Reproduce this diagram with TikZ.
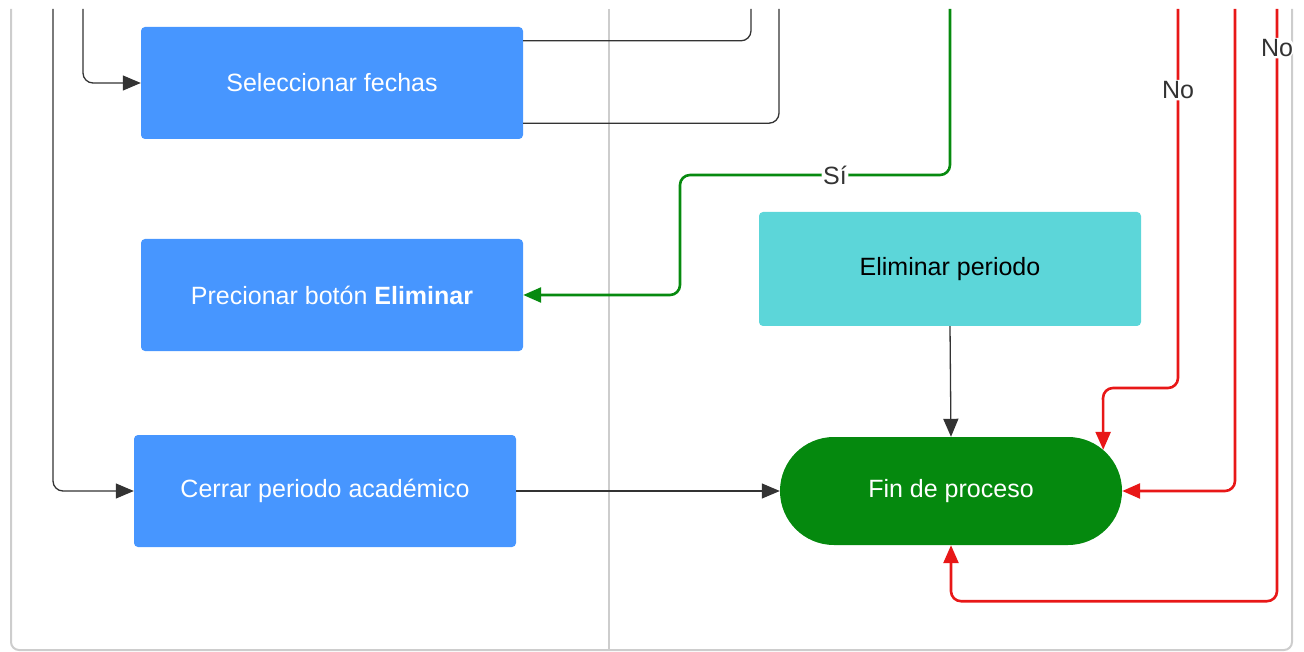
\documentclass[tikz,border=0pt]{standalone}
\usepackage{fontspec}
\setmainfont{Liberation Sans}
\usepackage{xcolor}
\usepackage{tikz}
\usetikzlibrary{positioning, arrows.meta, shapes.geometric, fit, calc}

\definecolor{taskblue}{HTML}{4796FF}
\definecolor{taskcyan}{HTML}{5CD6D9}
\definecolor{endgreen}{HTML}{05890E}
\definecolor{yesgreen}{HTML}{078A0F}
\definecolor{nored}{HTML}{E81717}
\definecolor{lanegray}{HTML}{CDCDCD}
\definecolor{linegray}{HTML}{333333}

\tikzset{
  txt/.style={font=\fontsize{25}{30}\selectfont},
  task/.style={txt, fill=taskblue, text=white, rounded corners=4pt, minimum width=382pt, minimum height=112pt, inner sep=0pt},
  flow/.style={draw=linegray, line width=1.3pt, rounded corners=10pt},
  yes/.style={draw=yesgreen, line width=2.6pt, rounded corners=10pt},
  no/.style={draw=nored, line width=2.6pt, rounded corners=10pt},
  tip/.style={-{Triangle[length=18pt, width=15pt]}},
  lbl/.style={txt, fill=white, text=linegray, inner sep=1.5pt}
}

\begin{document}
\begin{tikzpicture}[x=1pt, y=-1pt]
\useasboundingbox (0,0) rectangle (1304,652);

% pool frame and lane
\draw[lanegray, line width=2pt, rounded corners=8pt] (11,9) -- (11,650) -- (1292,650) -- (1292,9);
\draw[lanegray, line width=2pt] (609,9) -- (609,650);

% tasks
\node[task] (sel) at (332,83) {Seleccionar fechas};
\node[task] (pre) at (332,295) {Precionar bot\'on \textbf{Eliminar}};
\node[task] (cer) at (325,491) {Cerrar periodo acad\'emico};
\node[task, fill=taskcyan, text=black, minimum height=114pt] (del) at (950,269) {Eliminar periodo};
\node[txt, fill=endgreen, text=white, rounded corners=53.9pt, minimum width=342pt, minimum height=108pt, inner sep=0pt] (fin) at (951,491) {Fin de proceso};

% free ends at the top
\coordinate (inA) at (83,9);
\coordinate (inB) at (53,9);
\coordinate (outA) at (751,9);
\coordinate (outB) at (779,9);
\coordinate (siTop) at (950,9);
\coordinate (siTurn) at (680,175);
\coordinate (noA) at (1178,9);
\coordinate (noATurn) at (1103,388);
\coordinate (noB) at (1235,9);
\coordinate (noC) at (1277,9);

% connectors
\draw[flow, tip] (inA) |- (sel.west);
\draw[flow, tip] (inB) |- (cer.west);
\draw[flow] ($(sel.north east)+(0,14)$) -| (outA);
\draw[flow] ($(sel.south east)+(0,-16)$) -| (outB);
\draw[flow, tip] (del.south) -- (fin.north);
\draw[flow, tip] (cer.east) -- (fin.west);

\draw[yes, tip] (siTop) |- node[lbl, pos=0.713] {S\'i} (siTurn) |- (pre.east);

\draw[no, tip] (noA) |- node[lbl, pos=0.107] {No} (noATurn) -- ($(fin.north east)+(-19,13)$);
\draw[no, tip] (noB) |- (fin.east);
\draw[no, tip] (noC) |- node[lbl, pos=0.033] {No} ($(fin.south)+(0,56)$) -- (fin.south);
\end{tikzpicture}
\end{document}
